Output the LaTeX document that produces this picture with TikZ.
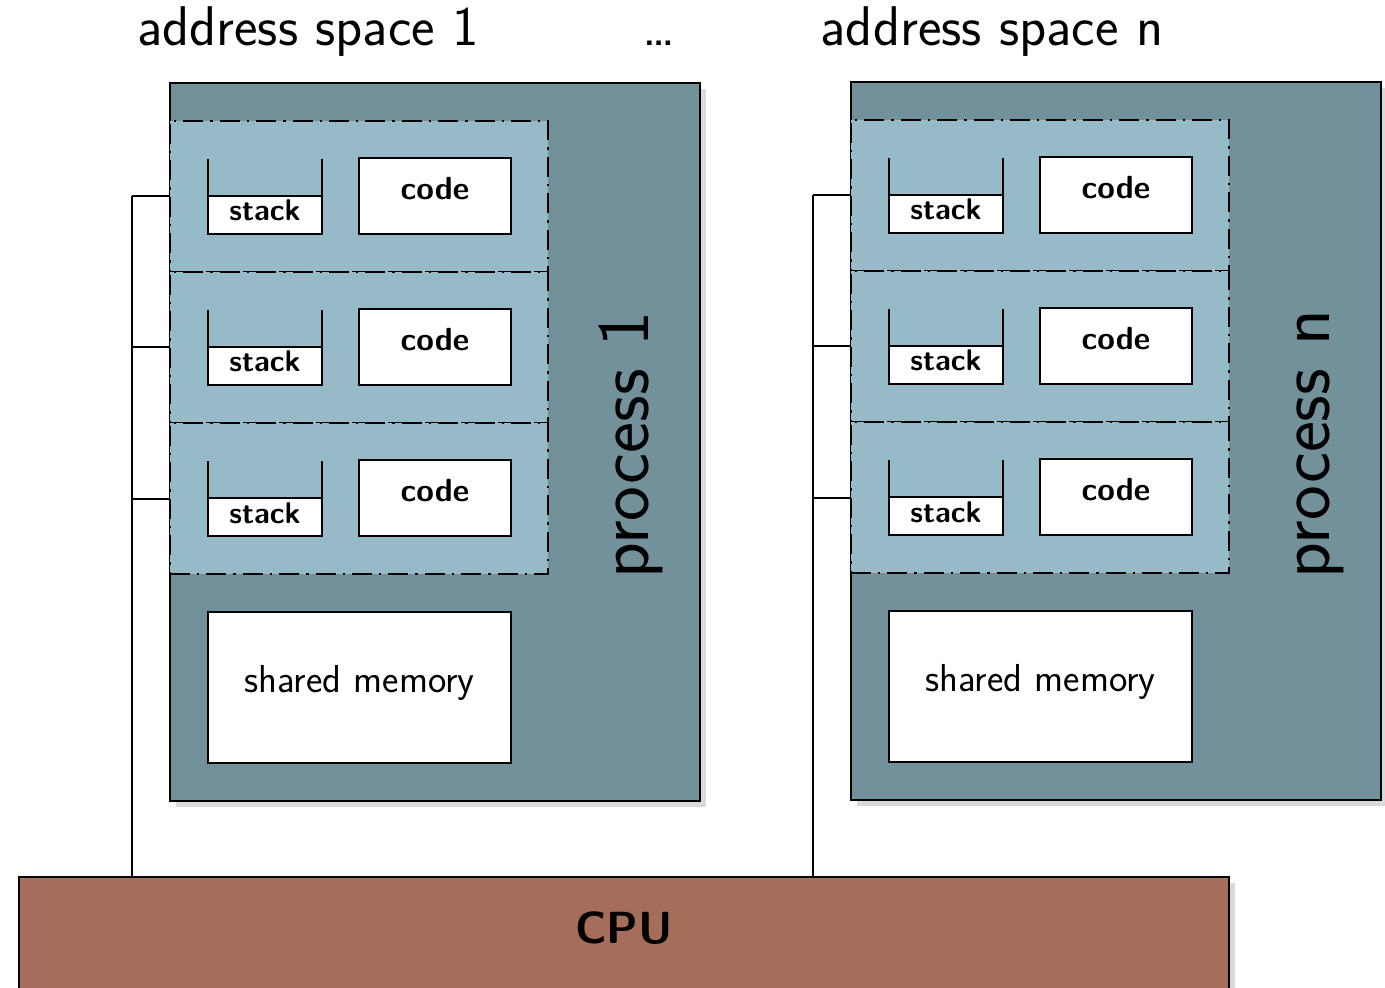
\documentclass[tikz,border=0pt]{standalone}
\usetikzlibrary{shadows}
\definecolor{procgray}{HTML}{73919A}
\definecolor{threadblue}{HTML}{97BAC8}
\definecolor{cpubrown}{HTML}{A56D5A}

\tikzset{
  boxshadow/.style={drop shadow={shadow xshift=3pt,shadow yshift=-3pt,opacity=0.3}},
  procbox/.style={draw,line width=1.2pt,fill=procgray,boxshadow,minimum width=265pt,minimum height=359pt,anchor=north west,inner sep=0pt,outer sep=0pt},
  threadbox/.style={draw,line width=1.1pt,dash pattern=on 10pt off 3.5pt on 1.2pt off 3.5pt,fill=threadblue,minimum width=189pt,minimum height=75.5pt,anchor=north west,inner sep=0pt,outer sep=0pt},
  stackbox/.style={draw,line width=1.2pt,fill=white,minimum width=57pt,minimum height=19pt,anchor=north west,inner sep=0pt,outer sep=0pt,font=\sffamily\bfseries\fontsize{15}{18}\selectfont,text height=11pt,text depth=5pt},
  codebox/.style={draw,line width=1.2pt,fill=white,minimum width=76pt,minimum height=38pt,anchor=north west,inner sep=0pt,outer sep=0pt,font=\sffamily\bfseries\fontsize{16}{19}\selectfont,text height=11pt,text depth=7pt},
  shmbox/.style={draw,line width=1.2pt,fill=white,minimum width=151.5pt,minimum height=75.5pt,anchor=north west,inner sep=0pt,outer sep=0pt,font=\sffamily\fontsize{19.5}{23}\selectfont,text height=12pt,text depth=7pt},
  cpubox/.style={draw,line width=1.2pt,fill=cpubrown,boxshadow,minimum width=605pt,minimum height=70pt,anchor=north west,inner sep=0pt,outer sep=0pt,font=\sffamily\bfseries\fontsize{22.5}{27}\selectfont,text height=17pt,text depth=21pt},
  proclabel/.style={rotate=90,anchor=base,font=\sffamily\fontsize{37}{44}\selectfont},
  title/.style={anchor=base,font=\sffamily\fontsize{28}{34}\selectfont},
  wire/.style={line width=1pt}
}

\begin{document}
\begin{tikzpicture}[x=0.5pt,y=-0.5pt]
   \useasboundingbox (0,0) rectangle (1385,988);
   \node[title] (as1) at (308,46) {address space 1};
   \node[title] (asdots) at (659,46) {\dots};
   \node[title] (asn) at (992,46) {address space n};
   \node[cpubox] (cpu) at (19,877) {CPU};
   \foreach \p/\x/\y in {1/170/83, n/851/82}{
      \node[procbox] (proc\p) at (\x,\y) {};
      \node[proclabel] (plabel\p) at (\x+478,\y+362) {process \p};
      \coordinate (bus\p) at (\x-38,\y+113.5);
      \draw[wire] (bus\p) -- (bus\p |- cpu.north);
      \foreach \i in {0,1,2}{
         \node[threadbox] (thr\p\i) at (\x,\y+38+151*\i) {};
         \draw[wire] (thr\p\i.west) -- (thr\p\i.west -| bus\p);
         \node[stackbox] (stk\p\i) at (\x+38,\y+113+151*\i) {stack};
         \draw[line width=1.2pt] (stk\p\i.north west) -- ++(0,-37)
                                 (stk\p\i.north east) -- ++(0,-37);
         \node[codebox] (code\p\i) at (\x+189,\y+75+151*\i) {code};
      }
      \node[shmbox] (shm\p) at (\x+38,\y+529) {shared memory};
   }
\end{tikzpicture}
\end{document}
